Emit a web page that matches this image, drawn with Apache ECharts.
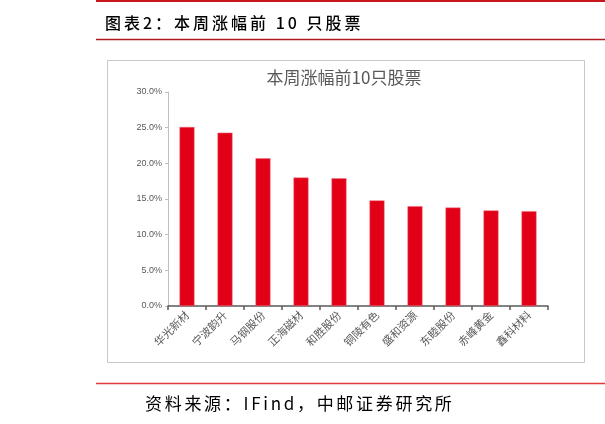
<!DOCTYPE html>
<html>
<head>
<meta charset="utf-8">
<script src="https://cdn.jsdelivr.net/npm/echarts@6/dist/echarts.min.js"></script>
<style>
  html, body { margin:0; padding:0; background:#fff; }
  #wrap { position:relative; width:605px; height:424px; overflow:hidden; }
  #chart { position:absolute; left:0; top:0; width:605px; height:424px; }
  .hdr { position:absolute; white-space:nowrap; font-family:"Noto Sans CJK SC", sans-serif; color:#000; }
</style>
</head>
<body>
<div id="wrap">
  <div id="chart"></div>
  <div class="hdr" id="head" style="left:105px; top:12px; font-size:16px; line-height:20px; font-weight:500; letter-spacing:3px;">图表2：本周涨幅前 10 只股票</div>
  <div class="hdr" id="foot" style="left:145px; top:393px; font-size:17px; line-height:20px; letter-spacing:2.7px;">资料来源：IFind，中邮证券研究所</div>
</div>
<script>
// ---- data ----
const chartTitle = '本周涨幅前10只股票';
const categories = ['华光新材', '宁波韵升', '马钢股份', '正海磁材', '和胜股份', '铜陵有色', '盛和资源', '东睦股份', '赤峰黄金', '鑫科材料'];
const weeklyGain = [25.1, 24.3, 20.7, 18.0, 17.9, 14.8, 14.0, 13.8, 13.4, 13.3];
const yMin = 0, yMax = 30, yStep = 5;

const chart = echarts.init(document.getElementById('chart'), null, { renderer: 'canvas' });
chart.setOption({
  animation: false,
  backgroundColor: '#fff',
  title: {
    text: chartTitle,
    left: 339,
    top: 64,
    textAlign: 'center',
    textStyle: { fontSize: 17, fontWeight: 'normal', color: '#595959', fontFamily: 'Noto Sans CJK SC' }
  },
  grid: { left: 168, right: 57, top: 92, bottom: 118, containLabel: false },
  xAxis: {
    type: 'category',
    data: categories,
    axisLine: { lineStyle: { color: '#595959', width: 1.5 } },
    axisTick: { show: true, alignWithLabel: false, length: 4, lineStyle: { color: '#595959', width: 1.5 } },
    axisLabel: { interval: 0, rotate: 45, margin: 7, fontSize: 11, color: '#595959', fontFamily: 'Noto Sans CJK SC' },
    splitLine: { show: false }
  },
  yAxis: {
    type: 'value',
    min: yMin, max: yMax, interval: yStep,
    axisLine: { show: true, lineStyle: { color: '#bfbfbf', width: 1 } },
    axisTick: { show: true, length: 3, lineStyle: { color: '#bfbfbf' } },
    axisLabel: { fontSize: 9, color: '#595959', margin: 6, fontFamily: 'Liberation Sans',
      formatter: v => v.toFixed(1) + '%' },
    splitLine: { show: false }
  },
  series: [{
    type: 'bar',
    data: weeklyGain,
    barWidth: 15,
    itemStyle: { color: '#e10016', borderColor: '#f07080', borderWidth: 0.5 }
  }],
  graphic: [
    { type: 'line', shape: { x1: 96, y1: 1, x2: 605, y2: 1 }, style: { stroke: '#c8161d', lineWidth: 2 }, silent: true },
    { type: 'line', shape: { x1: 96, y1: 39.5, x2: 605, y2: 39.5 }, style: { stroke: '#b21a22', lineWidth: 1.5 }, silent: true },
    { type: 'rect', shape: { x: 107.5, y: 60.5, width: 477, height: 302 }, style: { fill: 'none', stroke: '#c8c8c8', lineWidth: 1 }, silent: true, z: -1 },
    { type: 'line', shape: { x1: 96, y1: 383.5, x2: 605, y2: 383.5 }, style: { stroke: '#e03a3a', lineWidth: 1.5 }, silent: true }
  ]
});
</script>
</body>
</html>
